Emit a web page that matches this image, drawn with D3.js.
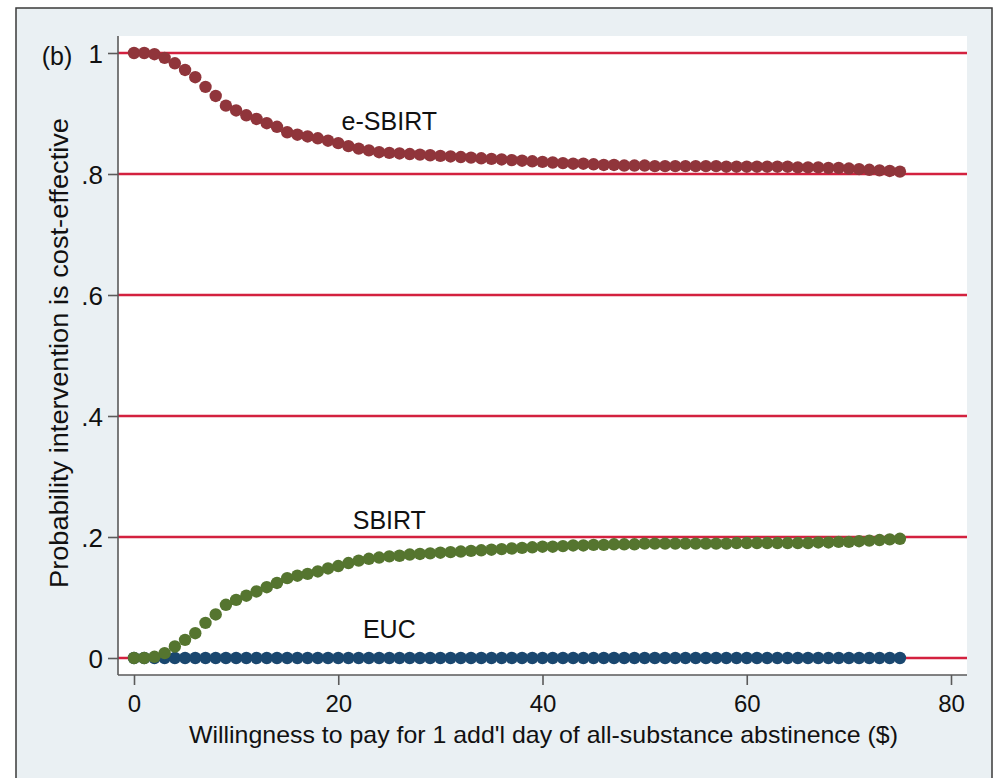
<!DOCTYPE html>
<html>
<head>
<meta charset="utf-8">
<script src="https://cdn.jsdelivr.net/npm/d3@7"></script>
<style>
  html, body { margin: 0; padding: 0; background: #ffffff; }
  svg { display: block; font-family: "Liberation Sans", Arial, sans-serif; }
</style>
</head>
<body>
<svg id="chart" width="996" height="778"></svg>
<script>
// Willingness-to-pay values ($ per additional day of abstinence)
const wtp = d3.range(0, 76);

// Probability each intervention is cost-effective, one value per WTP step
const eSbirt = [
  1.000, 1.000, 0.998, 0.992, 0.983, 0.972, 0.960, 0.944, 0.929, 0.913,
  0.905, 0.897, 0.891, 0.884, 0.878, 0.869, 0.865, 0.862, 0.859, 0.855,
  0.851, 0.846, 0.842, 0.839, 0.836, 0.835, 0.834, 0.833, 0.832, 0.831,
  0.830, 0.829, 0.828, 0.827, 0.826, 0.825, 0.824, 0.823, 0.822, 0.821,
  0.820, 0.819, 0.818, 0.817, 0.817, 0.816, 0.815, 0.815, 0.814, 0.814,
  0.814, 0.813, 0.813, 0.813, 0.813, 0.813, 0.813, 0.813, 0.812, 0.812,
  0.812, 0.812, 0.812, 0.812, 0.812, 0.811, 0.811, 0.811, 0.810, 0.810,
  0.809, 0.808, 0.807, 0.806, 0.805, 0.804
];
const sbirt = [
  0.000, 0.000, 0.002, 0.008, 0.019, 0.030, 0.041, 0.058, 0.072, 0.088,
  0.096, 0.103, 0.110, 0.117, 0.124, 0.132, 0.136, 0.139, 0.143, 0.148,
  0.152, 0.157, 0.161, 0.164, 0.166, 0.168, 0.169, 0.171, 0.172, 0.173,
  0.174, 0.175, 0.176, 0.177, 0.178, 0.179, 0.180, 0.181, 0.182, 0.183,
  0.184, 0.184, 0.185, 0.186, 0.186, 0.187, 0.187, 0.188, 0.188, 0.188,
  0.189, 0.189, 0.189, 0.189, 0.189, 0.189, 0.189, 0.189, 0.189, 0.190,
  0.190, 0.190, 0.190, 0.190, 0.190, 0.190, 0.190, 0.191, 0.191, 0.192,
  0.192, 0.193, 0.194, 0.195, 0.196, 0.197
];
const euc = [
  0, 0, 0, 0, 0, 0, 0, 0, 0, 0, 0, 0, 0, 0, 0, 0, 0, 0, 0, 0,
  0, 0, 0, 0, 0, 0, 0, 0, 0, 0, 0, 0, 0, 0, 0, 0, 0, 0, 0, 0,
  0, 0, 0, 0, 0, 0, 0, 0, 0, 0, 0, 0, 0, 0, 0, 0, 0, 0, 0, 0,
  0, 0, 0, 0, 0, 0, 0, 0, 0, 0, 0, 0, 0, 0, 0, 0
];

const xTicks = [0, 20, 40, 60, 80];
const yTicks = [0, 0.2, 0.4, 0.6, 0.8, 1];
const yTickLabels = ["0", ".2", ".4", ".6", ".8", "1"];

const seriesNames = ["EUC", "SBIRT", "e-SBIRT"];
const seriesColors = ["#1a476f", "#55752f", "#90353b"];
// Curve labels placed at a WTP / probability position
const labelX = [25, 25, 25];
const labelY = [0.048, 0.228, 0.888];

const xTitle = "Willingness to pay for 1 add'l day of all-substance abstinence ($)";
const yTitle = "Probability intervention is cost-effective";
const panelTag = "(b)";

const svg = d3.select("#chart");
const W = 996, H = 778;

// Figure background and frame
svg.append("rect").attr("x", 0).attr("y", 0).attr("width", W).attr("height", H).attr("fill", "#ffffff");
svg.append("rect").attr("x", 16).attr("y", 8).attr("width", 976).attr("height", 772)
  .attr("fill", "#eaf0f3").attr("stroke", "#3a3a3a").attr("stroke-width", 1.5);

// Plot region
const plot = { left: 118, right: 967, top: 36, bottom: 675 };
svg.append("rect").attr("x", plot.left).attr("y", plot.top)
  .attr("width", plot.right - plot.left).attr("height", plot.bottom - plot.top)
  .attr("fill", "#ffffff");

const x = d3.scaleLinear().domain([0, 80]).range([134, 951]);
const y = d3.scaleLinear().domain([0, 1]).range([658, 53]);

// Horizontal grid lines
svg.append("g").selectAll("line").data(yTicks).join("line")
  .attr("x1", plot.left).attr("x2", plot.right)
  .attr("y1", d => y(d)).attr("y2", d => y(d))
  .attr("stroke", "#d3213f").attr("stroke-width", 2.6);

// Axes
const axisColor = "#5a5a5a";
const xAxis = svg.append("g").attr("transform", `translate(0,${plot.bottom})`)
  .call(d3.axisBottom(x).tickValues(xTicks).tickSize(10).tickSizeOuter(0).tickPadding(7));
xAxis.select(".domain").attr("d", `M${plot.left},0H${plot.right}`);
const yAxis = svg.append("g").attr("transform", `translate(${plot.left},0)`)
  .call(d3.axisLeft(y).tickValues(yTicks).tickSize(10).tickSizeOuter(0).tickPadding(5)
    .tickFormat((d, i) => yTickLabels[i]));
yAxis.select(".domain").attr("d", `M0,${plot.top}V${plot.bottom}`);

[xAxis, yAxis].forEach(g => {
  g.select(".domain").attr("stroke", axisColor).attr("stroke-width", 1.6);
  g.selectAll(".tick line").attr("stroke", axisColor).attr("stroke-width", 1.6);
  g.selectAll(".tick text").attr("fill", "#111")
    .attr("font-family", "'Liberation Sans', Arial, sans-serif");
});
xAxis.selectAll(".tick text").attr("font-size", 24).attr("dy", "0.82em");
yAxis.selectAll(".tick text").attr("font-size", 26).attr("dy", "0.36em");

// Markers, one series at a time
const seriesValues = [euc, sbirt, eSbirt];
seriesValues.forEach((vals, si) => {
  svg.append("g").selectAll("circle").data(wtp).join("circle")
    .attr("cx", d => x(d)).attr("cy", (d, i) => y(vals[i]))
    .attr("r", 6.2).attr("fill", seriesColors[si]);
});

// Curve labels
svg.append("g").selectAll("text").data(seriesNames).join("text")
  .attr("x", (d, i) => x(labelX[i])).attr("y", (d, i) => y(labelY[i]))
  .attr("text-anchor", "middle").attr("dy", "0.36em")
  .attr("font-size", 25).attr("fill", "#111").text(d => d);

// Axis titles
svg.append("text").attr("x", (plot.left + plot.right) / 2 + 1).attr("y", 743)
  .attr("text-anchor", "middle")
  .attr("font-size", 24).attr("fill", "#111")
  .attr("textLength", 709).attr("lengthAdjust", "spacingAndGlyphs").text(xTitle);
svg.append("text").attr("transform", `translate(59,353) rotate(-90)`)
  .attr("text-anchor", "middle").attr("dy", "0.35em")
  .attr("font-size", 26).attr("fill", "#111")
  .attr("textLength", 470).attr("lengthAdjust", "spacingAndGlyphs").text(yTitle);

// Panel tag
svg.append("text").attr("x", 57).attr("y", y(1) + 3).attr("text-anchor", "middle").attr("dy", "0.35em")
  .attr("font-size", 25).attr("fill", "#111").text(panelTag);
</script>
</body>
</html>
